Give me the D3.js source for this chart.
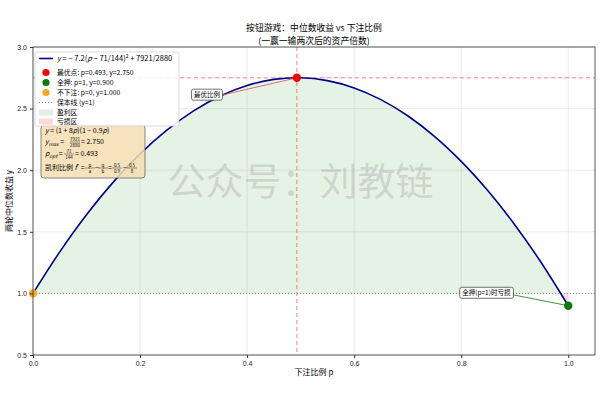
<!DOCTYPE html>
<html>
<head>
<meta charset="utf-8">
<script src="https://cdn.jsdelivr.net/npm/d3@7"></script>
<style>
  body { margin: 0; background: #fff; }
  svg { font-family: "Noto Sans CJK SC", "DejaVu Sans", sans-serif; }
</style>
</head>
<body>
<div id="chart"></div>
<script>
// curve samples
var pValues = [0, 0.05, 0.1, 0.15, 0.2, 0.25, 0.3, 0.35, 0.4, 0.45, 0.5,
               0.55, 0.6, 0.65, 0.7, 0.75, 0.8, 0.85, 0.9, 0.95, 1.0];
var yValues = [1.0, 1.337, 1.638, 1.903, 2.132, 2.325, 2.482, 2.603, 2.688, 2.737, 2.75,
               2.727, 2.668, 2.573, 2.442, 2.275, 2.072, 1.833, 1.558, 1.247, 0.9];

var optPoint = [0.493, 2.750];
var allInPoint = [1, 0.900];
var noBetPoint = [0, 1.000];
var breakEven = 1;

var xTicks = [0, 0.2, 0.4, 0.6, 0.8, 1.0];
var yTicks = [0.5, 1.0, 1.5, 2.0, 2.5, 3.0];

var legendLabels = ["最优点: p=0.493, y=2.750", "全押: p=1, y=0.900", "不下注: p=0, y=1.000",
                    "保本线 (y=1)", "盈利区", "亏损区"];

var margin = {top: 47, right: 5, bottom: 40, left: 33},
    width = 600 - margin.left - margin.right,
    height = 395 - margin.top - margin.bottom;

var navy = "#00008b", red = "#ff0000", green = "#0a7a0a", orange = "#f5a623";

var svg = d3.select("#chart").append("svg")
    .attr("width", 600)
    .attr("height", 395);

// title
svg.append("text").attr("x", 314).attr("y", 31).attr("text-anchor", "middle")
    .style("font-size", "8.8px").text("按钮游戏：中位数收益 vs 下注比例");
svg.append("text").attr("x", 314).attr("y", 43.5).attr("text-anchor", "middle")
    .style("font-size", "8.8px").text("(一赢一输两次后的资产倍数)");

var g = svg.append("g")
    .attr("transform", "translate(" + margin.left + "," + margin.top + ")");

var x = d3.scaleLinear().domain([0, 1.05]).range([0, width]);
var y = d3.scaleLinear().domain([0.5, 3.0]).range([height, 0]);

// grid
g.selectAll(".xgrid").data(xTicks).enter().append("line")
    .attr("x1", d => x(d)).attr("x2", d => x(d))
    .attr("y1", 0).attr("y2", height)
    .attr("stroke", "#e6e6e6").attr("stroke-width", 0.8);
g.selectAll(".ygrid").data(yTicks).enter().append("line")
    .attr("x1", 0).attr("x2", width)
    .attr("y1", d => y(d)).attr("y2", d => y(d))
    .attr("stroke", "#e6e6e6").attr("stroke-width", 0.8);

var curveData = pValues.map(function (p, i) { return {p: p, y: yValues[i]}; });

// clip regions above / below break-even
var defs = svg.append("defs");
defs.append("clipPath").attr("id", "above").append("rect")
    .attr("x", 0).attr("y", 0).attr("width", width).attr("height", y(breakEven));
defs.append("clipPath").attr("id", "below").append("rect")
    .attr("x", 0).attr("y", y(breakEven)).attr("width", width).attr("height", height - y(breakEven));

var area = d3.area()
    .x(d => x(d.p))
    .y0(y(breakEven))
    .y1(d => y(d.y))
    .curve(d3.curveCatmullRom);

g.append("path").datum(curveData)
    .attr("d", area).attr("clip-path", "url(#above)")
    .attr("fill", "#2ca02c").attr("fill-opacity", 0.13);
g.append("path").datum(curveData)
    .attr("d", area).attr("clip-path", "url(#below)")
    .attr("fill", "#ff0000").attr("fill-opacity", 0.13);

// break-even line
g.append("line")
    .attr("x1", 0).attr("x2", width)
    .attr("y1", y(breakEven)).attr("y2", y(breakEven))
    .attr("stroke", "#808080").attr("stroke-width", 0.9)
    .attr("stroke-dasharray", "1,2");

// optimum guides
g.append("line")
    .attr("x1", 0).attr("x2", width)
    .attr("y1", y(optPoint[1])).attr("y2", y(optPoint[1]))
    .attr("stroke", red).attr("stroke-opacity", 0.5).attr("stroke-width", 1)
    .attr("stroke-dasharray", "4,3");
g.append("line")
    .attr("x1", x(optPoint[0])).attr("x2", x(optPoint[0]))
    .attr("y1", 0).attr("y2", height)
    .attr("stroke", red).attr("stroke-opacity", 0.5).attr("stroke-width", 1)
    .attr("stroke-dasharray", "4,3");

// watermark
g.append("text")
    .attr("x", x(0.5)).attr("y", y(1.8))
    .attr("text-anchor", "middle")
    .style("font-size", "38px").style("fill", "#999").style("fill-opacity", 0.32)
    .text("公众号：刘教链");

// main curve
var line = d3.line().x(d => x(d.p)).y(d => y(d.y)).curve(d3.curveCatmullRom);
g.append("path").datum(curveData)
    .attr("d", line).attr("fill", "none")
    .attr("stroke", navy).attr("stroke-width", 1.6);

// annotation arrows
g.append("line")
    .attr("x1", x(0.353)).attr("y1", y(2.61))
    .attr("x2", x(optPoint[0])).attr("y2", y(optPoint[1]))
    .attr("stroke", "#d9534f").attr("stroke-width", 0.8);
g.append("line")
    .attr("x1", x(0.895)).attr("y1", y(0.99))
    .attr("x2", x(allInPoint[0])).attr("y2", y(allInPoint[1]))
    .attr("stroke", green).attr("stroke-width", 0.8);

// points
g.append("circle").attr("cx", x(optPoint[0])).attr("cy", y(optPoint[1])).attr("r", 4.2).attr("fill", red);
g.append("circle").attr("cx", x(allInPoint[0])).attr("cy", y(allInPoint[1])).attr("r", 4.2).attr("fill", green);
g.append("circle").attr("cx", x(noBetPoint[0])).attr("cy", y(noBetPoint[1])).attr("r", 4.2).attr("fill", orange);

// annotation boxes
function labelBox(cx, cy, txt) {
    var t = g.append("text").attr("x", cx).attr("y", cy + 2.3)
        .attr("text-anchor", "middle").style("font-size", "6.5px").text(txt);
    var b = t.node().getBBox();
    g.insert("rect", function () { return t.node(); })
        .attr("x", b.x - 2.5).attr("y", cy - 5.5)
        .attr("width", b.width + 5).attr("height", 11)
        .attr("rx", 2).attr("fill", "#fff").attr("stroke", "#333").attr("stroke-width", 0.7);
}
labelBox(x(0.325), y(2.613), "最优比例");
labelBox(x(0.847), y(1.005), "全押(p=1)时亏损");

// axes
var xAxis = d3.axisBottom(x).tickValues(xTicks).tickFormat(d3.format(".1f")).tickSize(3);
var yAxis = d3.axisLeft(y).tickValues(yTicks).tickFormat(d3.format(".1f")).tickSize(3);
var gx = g.append("g").attr("transform", "translate(0," + height + ")").call(xAxis);
var gy = g.append("g").call(yAxis);
[gx, gy].forEach(function (a) {
    a.select(".domain").remove();
    a.selectAll("text").style("font-size", "7px").style("fill", "#222");
    a.selectAll("line").attr("stroke", "#333");
});
g.append("rect").attr("x", 0).attr("y", 0).attr("width", width).attr("height", height)
    .attr("fill", "none").attr("stroke", "#333").attr("stroke-width", 0.8);

svg.append("text").attr("x", margin.left + width / 2).attr("y", 375)
    .attr("text-anchor", "middle").style("font-size", "8px").text("下注比例 p");
svg.append("text").attr("transform", "translate(12," + (margin.top + height / 2) + ") rotate(-90)")
    .attr("text-anchor", "middle").style("font-size", "8px").text("两轮中位数收益 y");

// formula text box (sits under the legend)
var fb = g.append("g").attr("transform", "translate(8,78)");
fb.append("rect").attr("x", 0).attr("y", 0).attr("width", 104).attr("height", 53)
    .attr("rx", 3).attr("fill", "#f5deb3").attr("fill-opacity", 0.85)
    .attr("stroke", "#555").attr("stroke-width", 0.7);
var ft = fb.append("g").style("font-size", "7px");
ft.append("text").attr("x", 4).attr("y", 8)
    .html("<tspan font-style='italic'>y</tspan> = (1 + 8<tspan font-style='italic'>p</tspan>)(1 − 0.9<tspan font-style='italic'>p</tspan>)");
function frac(parent, fx, fy, num, den) {
    parent.append("text").attr("x", fx).attr("y", fy - 2).attr("text-anchor", "middle")
        .style("font-size", "4.5px").text(num);
    parent.append("line").attr("x1", fx - 5).attr("x2", fx + 5).attr("y1", fy - 1).attr("y2", fy - 1)
        .attr("stroke", "#000").attr("stroke-width", 0.4);
    parent.append("text").attr("x", fx).attr("y", fy + 3.5).attr("text-anchor", "middle")
        .style("font-size", "4.5px").text(den);
}
ft.append("text").attr("x", 4).attr("y", 19)
    .html("<tspan font-style='italic'>y</tspan><tspan font-size='5px' font-style='italic' dy='1.5'>max</tspan><tspan dy='-1.5'> =</tspan>");
frac(ft, 34, 18, "7921", "2880");
ft.append("text").attr("x", 40).attr("y", 19).text("= 2.750");
ft.append("text").attr("x", 4).attr("y", 31)
    .html("<tspan font-style='italic'>p</tspan><tspan font-size='5px' font-style='italic' dy='1.5'>opt</tspan><tspan dy='-1.5'> =</tspan>");
frac(ft, 28, 30, "71", "144");
ft.append("text").attr("x", 34).attr("y", 31).text("= 0.493");
ft.append("text").attr("x", 4).attr("y", 45)
    .html("凯利比例 <tspan font-style='italic'>f</tspan><tspan font-size='5px' dy='-2.5'>*</tspan><tspan dy='2.5'> =</tspan>");
frac(ft, 49, 44, "p", "a");
ft.append("text").attr("x", 54).attr("y", 45).text("−");
frac(ft, 62, 44, "q", "b");
ft.append("text").attr("x", 67).attr("y", 45).text("=");
frac(ft, 76, 44, "0.5", "0.9");
ft.append("text").attr("x", 82).attr("y", 45).text("−");
frac(ft, 91, 44, "0.5", "8");

// legend
var lg = g.append("g").attr("transform", "translate(2,5)");
lg.append("rect").attr("x", 0).attr("y", 0).attr("width", 144).attr("height", 74)
    .attr("rx", 2).attr("fill", "#fff").attr("fill-opacity", 0.9)
    .attr("stroke", "#ccc").attr("stroke-width", 0.7);
var rows = [6.5, 20.5, 30.5, 40.5, 50.5, 60.5, 69.5];
lg.append("line").attr("x1", 4).attr("x2", 18).attr("y1", rows[0]).attr("y2", rows[0])
    .attr("stroke", navy).attr("stroke-width", 1.6);
lg.append("text").attr("x", 22).attr("y", rows[0] + 2.5).style("font-size", "7.5px")
    .html("<tspan font-style='italic'>y</tspan> = − 7.2(<tspan font-style='italic'>p</tspan> − 71/144)<tspan font-size='5px' dy='-3'>2</tspan><tspan dy='3'> + 7921/2880</tspan>");
[red, green, orange].forEach(function (c, i) {
    lg.append("circle").attr("cx", 11).attr("cy", rows[i + 1]).attr("r", 3.6).attr("fill", c);
});
lg.append("line").attr("x1", 4).attr("x2", 18).attr("y1", rows[4]).attr("y2", rows[4])
    .attr("stroke", "#808080").attr("stroke-width", 0.9).attr("stroke-dasharray", "1,2");
lg.append("rect").attr("x", 4).attr("y", rows[5] - 3).attr("width", 14).attr("height", 6)
    .attr("fill", "#2ca02c").attr("fill-opacity", 0.15);
lg.append("rect").attr("x", 4).attr("y", rows[6] - 3).attr("width", 14).attr("height", 6)
    .attr("fill", "#ff0000").attr("fill-opacity", 0.15);
legendLabels.forEach(function (t, i) {
    lg.append("text").attr("x", 22).attr("y", rows[i + 1] + 2.5)
        .style("font-size", "6.8px").text(t);
});
</script>
</body>
</html>
